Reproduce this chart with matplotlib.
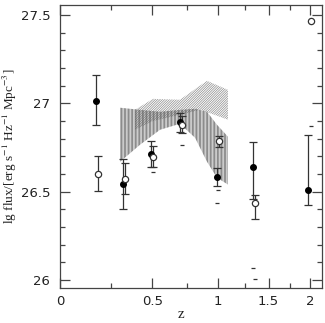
import numpy as np
import matplotlib
matplotlib.use('Agg')
import matplotlib.pyplot as plt
from matplotlib.ticker import FixedLocator, FixedFormatter

# filled points with error bars
z_fill = [0.171, 0.317, 0.492, 0.694, 0.991, 1.338, 1.978]
y_fill = [27.014, 26.543, 26.713, 26.892, 26.583, 26.640, 26.511]
up_fill = [27.160, 26.685, 26.788, 26.945, 26.634, 26.779, 26.822]
lo_fill = [26.875, 26.404, 26.637, 26.835, 26.534, 26.460, 26.423]

# open points with error bars
z_open = [0.183, 0.332, 0.506, 0.707, 1.011, 1.356]
y_open = [26.600, 26.573, 26.696, 26.879, 26.788, 26.436]
up_open = [26.700, 26.664, 26.760, 26.930, 26.816, 26.483]
lo_open = [26.506, 26.487, 26.640, 26.830, 26.753, 26.347]

# open point without error bar
z_open2 = [2.009]
y_open2 = [27.468]

# small dash marks
z_dash = [0.504, 0.707, 1.005, 0.991, 1.338, 1.351, 2.012]
y_dash = [26.613, 26.766, 26.507, 26.436, 26.069, 26.007, 26.869]

# band 1 (vertical hatch)
z_b1 = [0.302, 0.421, 0.552, 0.694, 0.810, 0.908, 0.993, 1.092]
top_b1 = [26.975, 26.963, 26.952, 26.963, 26.969, 26.952, 26.879, 26.811]
bot_b1 = [26.669, 26.765, 26.850, 26.884, 26.805, 26.669, 26.579, 26.540]

# band 2 (dotted)
z_b2 = [0.390, 0.505, 0.694, 0.850, 0.908, 1.092]
top_b2 = [26.963, 27.025, 27.020, 27.100, 27.127, 27.076]
bot_b2 = [26.850, 26.900, 26.935, 26.963, 26.950, 26.907]

xticks = [0, 0.5, 1, 1.5, 2]
xtick_labels = ['0', '0.5', '1', '1.5', '2']
xminor = [0.25, 0.75, 1.25, 1.75]
yticks = [26, 26.5, 27, 27.5]
ytick_labels = ['26', '26.5', '27', '27.5']

plt.rcParams['font.family'] = 'DejaVu Sans'
plt.rcParams['mathtext.fontset'] = 'stix'
plt.rcParams['hatch.linewidth'] = 0.5

fig = plt.figure(figsize=(3.25, 3.23), dpi=100)
ax = fig.add_axes([60 / 325, 35 / 323, 262 / 325, 283 / 323])
ax.set_xscale('function', functions=(lambda z: np.log10(1 + np.clip(z, -0.99, None)),
                                     lambda x: 10 ** x - 1))

ax.fill_between(z_b2, bot_b2, top_b2, facecolor='none', edgecolor='#8c8c8c',
                hatch='/' * 14, linewidth=0)
ax.fill_between(z_b1, bot_b1, top_b1, facecolor='none', edgecolor='#5a5a5a',
                hatch='|' * 12, linewidth=0)

yf = np.array(y_fill)
ax.errorbar(z_fill, y_fill, yerr=[yf - np.array(lo_fill), np.array(up_fill) - yf],
            fmt='o', ms=4, color='black', ecolor='#333333', elinewidth=0.9,
            capsize=3, capthick=0.9)
yo = np.array(y_open)
ax.errorbar(z_open, y_open, yerr=[yo - np.array(lo_open), np.array(up_open) - yo],
            fmt='o', ms=4.5, mfc='white', mec='#333333', mew=0.9, ecolor='#333333',
            elinewidth=0.9, capsize=3, capthick=0.9)
ax.plot(z_open2, y_open2, 'o', ms=4.5, mfc='white', mec='#333333', mew=0.9)
ax.plot(z_dash, y_dash, '_', ms=3, color='#333333', mew=0.9)

ax.set_xlim(0, 10 ** 0.5 - 1)
ax.set_ylim(25.955, 27.556)
ax.xaxis.set_major_locator(FixedLocator(xticks))
ax.xaxis.set_major_formatter(FixedFormatter(xtick_labels))
ax.xaxis.set_minor_locator(FixedLocator(xminor))
ax.set_yticks(yticks, ytick_labels)
ax.set_yticks(np.arange(26.0, 27.55, 0.1), minor=True)

ax.tick_params(which='both', direction='in', top=True, right=True,
               color='#444444', width=0.9, labelsize=9.5, labelcolor='#222222')
ax.tick_params(which='major', length=7)
ax.tick_params(which='minor', length=3.5)
ax.tick_params(axis='x', pad=5)
ax.tick_params(axis='y', pad=7)
for s in ax.spines.values():
    s.set_color('#444444')
    s.set_linewidth(0.9)

fig.text(10 / 325, 1 - 146 / 323, r'lg flux/[erg s$^{-1}$ Hz$^{-1}$ Mpc$^{-3}$]',
         family='Liberation Serif', fontsize=9.5, color='#222222', rotation=90,
         ha='center', va='center')
fig.text(181 / 325, 9 / 323, 'z', family='Liberation Serif', fontsize=11,
         ha='center', va='center', color='#222222')

fig.savefig('out.png', dpi=100)
